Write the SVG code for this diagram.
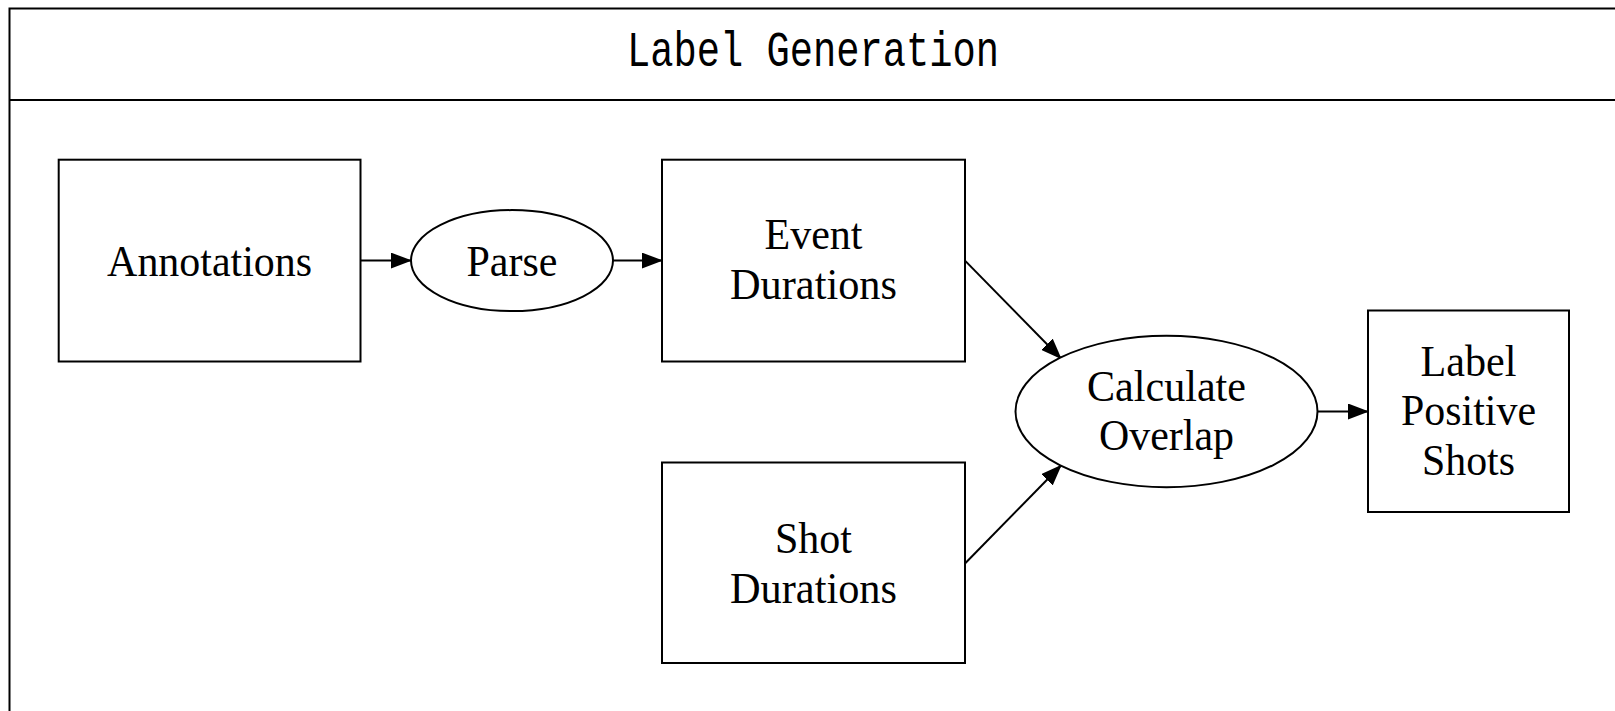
<svg xmlns="http://www.w3.org/2000/svg" width="1615" height="711" viewBox="0 0 1615 711">
<style>
.shape{fill:#fff;stroke:#000;stroke-width:2}
.t{font-family:"Liberation Serif","Times New Roman",serif;font-size:44px;fill:#000;text-anchor:middle}
.title{font-family:"Liberation Mono","Courier New",monospace;font-size:38px;fill:#000;text-anchor:middle}
.c{fill:none;stroke:#000;stroke-width:2}
</style>
<defs>
<marker id="ah" markerWidth="21" markerHeight="16" refX="20" refY="8" orient="auto" markerUnits="userSpaceOnUse" viewBox="0 0 21 16">
<path d="M0,0 L21,8 L0,16 Z" fill="#000"/>
</marker>
</defs>
<rect width="1615" height="711" fill="#fff"/>
<g id="frame">
<rect x="9.5" y="8.5" width="1620" height="720" fill="#fff" stroke="#000" stroke-width="2"/>
<line x1="9.5" y1="100" x2="1615" y2="100" stroke="#000" stroke-width="2"/>
<text class="title" transform="translate(813 66) scale(1 1.3)" x="0" y="0" textLength="372" lengthAdjust="spacingAndGlyphs">Label Generation</text>
</g>
<g id="connectors">
<line class="c" x1="360.5" y1="260.6" x2="411" y2="260.6" marker-end="url(#ah)"/>
<line class="c" x1="613" y1="260.6" x2="662" y2="260.6" marker-end="url(#ah)"/>
<line class="c" x1="965" y1="260.6" x2="1061" y2="358.5" marker-end="url(#ah)"/>
<line class="c" x1="965" y1="563.5" x2="1061" y2="465.5" marker-end="url(#ah)"/>
<line class="c" x1="1317.5" y1="411.5" x2="1368" y2="411.5" marker-end="url(#ah)"/>
</g>
<g id="annotations">
<rect class="shape" x="58.7" y="159.7" width="301.8" height="201.8"/>
<text class="t" x="209.6" y="276" textLength="205" lengthAdjust="spacingAndGlyphs">Annotations</text>
</g>
<g id="parse">
<ellipse class="shape" cx="512" cy="260.6" rx="101" ry="50.5"/>
<text class="t" x="512" y="276" textLength="91" lengthAdjust="spacingAndGlyphs">Parse</text>
</g>
<g id="event-durations">
<rect class="shape" x="662" y="159.7" width="303" height="201.8"/>
<text class="t" x="813.5" y="249" textLength="98" lengthAdjust="spacingAndGlyphs">Event</text>
<text class="t" x="813.5" y="298.7" textLength="167" lengthAdjust="spacingAndGlyphs">Durations</text>
</g>
<g id="shot-durations">
<rect class="shape" x="662" y="462.5" width="303" height="200.5"/>
<text class="t" x="813.5" y="553" textLength="77" lengthAdjust="spacingAndGlyphs">Shot</text>
<text class="t" x="813.5" y="602.5" textLength="167" lengthAdjust="spacingAndGlyphs">Durations</text>
</g>
<g id="calculate-overlap">
<ellipse class="shape" cx="1166.5" cy="411.5" rx="151" ry="75.7"/>
<text class="t" x="1166.5" y="400.6" textLength="159" lengthAdjust="spacingAndGlyphs">Calculate</text>
<text class="t" x="1166.5" y="450" textLength="135" lengthAdjust="spacingAndGlyphs">Overlap</text>
</g>
<g id="label-positive-shots">
<rect class="shape" x="1368" y="310.5" width="201" height="201.5"/>
<text class="t" x="1468.5" y="376" textLength="96" lengthAdjust="spacingAndGlyphs">Label</text>
<text class="t" x="1468.5" y="425" textLength="135" lengthAdjust="spacingAndGlyphs">Positive</text>
<text class="t" x="1468.5" y="475" textLength="93" lengthAdjust="spacingAndGlyphs">Shots</text>
</g>
</svg>
